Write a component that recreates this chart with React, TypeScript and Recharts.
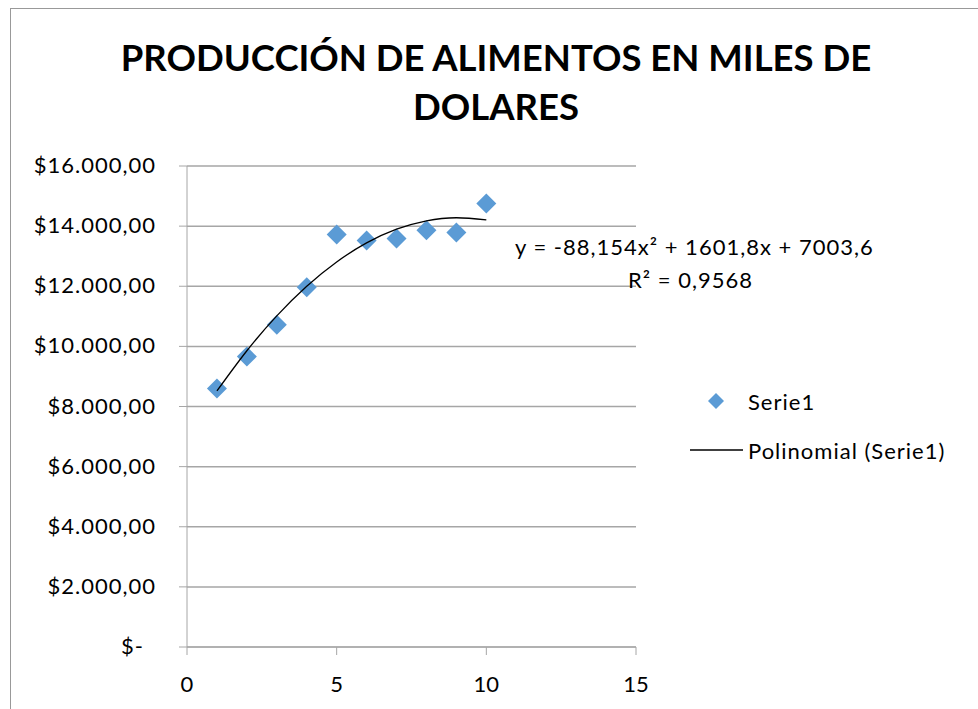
import { ScatterChart, Scatter, XAxis, YAxis, CartesianGrid } from 'recharts';

// valores (x = periodo, y = miles de dolares)
const periodos = [1, 2, 3, 4, 5, 6, 7, 8, 9, 10];
const produccion = [8600, 9660, 10720, 11970, 13720, 13520, 13590, 13860, 13790, 14750];

// curva de tendencia polinomial tal como aparece dibujada
const tendenciaX = [1, 2, 3, 4, 5, 6, 7, 8, 9, 10];
const tendenciaY = [8517, 9855, 11016, 12000, 12809, 13441, 13897, 14176, 14279, 14206];

const yTicks = [0, 2000, 4000, 6000, 8000, 10000, 12000, 14000, 16000];
const xTicks = [0, 5, 10, 15];

const titulo = ['PRODUCCIÓN DE ALIMENTOS EN MILES DE', 'DOLARES'];
const ecuacion = 'y = -88,154x² + 1601,8x + 7003,6';
const r2 = 'R² = 0,9568';

const puntos = periodos.map((x, i) => ({ x, y: produccion[i] }));
const tendencia = tendenciaX.map((x, i) => ({ x, y: tendenciaY[i] }));

const FONT = 'Lato, "Open Sans", sans-serif';
const AZUL = '#5B9BD5';
const GRIS = '#A6A6A6';
const TXT = { fontFamily: FONT, fontSize: 22, letterSpacing: 1, color: '#000' };

function moneda(v: number) {
    if (v === 0) return '$-';
    const miles = String(v).replace(/\B(?=(\d{3})+(?!\d))/g, '.');
    return '$' + miles + ',00';
}

function Diamante(props: any) {
    const { cx, cy } = props;
    const r = 10;
    return <polygon points={`${cx},${cy - r} ${cx + r},${cy} ${cx},${cy + r} ${cx - r},${cy}`} fill={AZUL} />;
}

function YTick(props: any) {
    const { x, y, payload } = props;
    const shift = payload.value === 0 ? -12 : 0;
    return (
        <text x={x + shift} y={y} dy={7} textAnchor="end" fill="#000" fontSize={22} fontFamily={FONT} style={{ letterSpacing: 1 }}>
            {moneda(payload.value)}
        </text>
    );
}

export default function App() {
    return (
        <div style={{ position: 'absolute', left: 0, top: 0, width: 978, height: 709, background: '#fff', overflow: 'hidden' }}>
            {/* marco del area del grafico */}
            <div style={{ position: 'absolute', left: 10, top: 8, width: 990, height: 720, borderLeft: '1px solid #999', borderTop: '1px solid #999' }} />

            <div style={{ position: 'absolute', left: 0, top: 33, width: 992, textAlign: 'center', fontFamily: FONT, fontWeight: 700, fontSize: 36.5, lineHeight: '49px', color: '#000' }}>
                <div>{titulo[0]}</div>
                <div>{titulo[1]}</div>
            </div>

            <ScatterChart width={978} height={709} margin={{ top: 166, right: 342, bottom: 22, left: 10 }}>
                <CartesianGrid horizontal={true} vertical={false} stroke={GRIS} strokeWidth={1.5} />
                <XAxis
                    type="number"
                    dataKey="x"
                    domain={[0, 15]}
                    ticks={xTicks}
                    height={40}
                    tickSize={8}
                    tickMargin={21}
                    stroke={GRIS}
                    tick={{ fill: '#000', fontSize: 22, fontFamily: FONT }}
                />
                <YAxis
                    type="number"
                    dataKey="y"
                    domain={[0, 16000]}
                    ticks={yTicks}
                    width={177}
                    tickSize={8}
                    tickMargin={23}
                    stroke={GRIS}
                    tick={<YTick />}
                />
                <Scatter data={puntos} fill={AZUL} shape={<Diamante />} isAnimationActive={false} />
                <Scatter
                    data={tendencia}
                    line={{ stroke: '#000', strokeWidth: 1.3 }}
                    lineJointType="natural"
                    shape={() => null}
                    isAnimationActive={false}
                />
            </ScatterChart>

            <div style={{ ...TXT, position: 'absolute', left: 515, top: 233, whiteSpace: 'nowrap' }}>
                {ecuacion}
            </div>
            <div style={{ ...TXT, position: 'absolute', left: 628, top: 266, whiteSpace: 'nowrap' }}>
                {r2}
            </div>

            {/* leyenda */}
            <div style={{ ...TXT, position: 'absolute', left: 690, top: 386 }}>
                <div style={{ display: 'flex', alignItems: 'center', height: 30 }}>
                    <svg width={58} height={30}>
                        <polygon points="26,7 34,15 26,23 18,15" fill={AZUL} />
                    </svg>
                    <span>Serie1</span>
                </div>
                <div style={{ display: 'flex', alignItems: 'center', height: 30, marginTop: 19 }}>
                    <svg width={58} height={30}>
                        <line x1={0} y1={15} x2={53} y2={15} stroke="#000" strokeWidth={1.3} />
                    </svg>
                    <span>Polinomial (Serie1)</span>
                </div>
            </div>
        </div>
    );
}
